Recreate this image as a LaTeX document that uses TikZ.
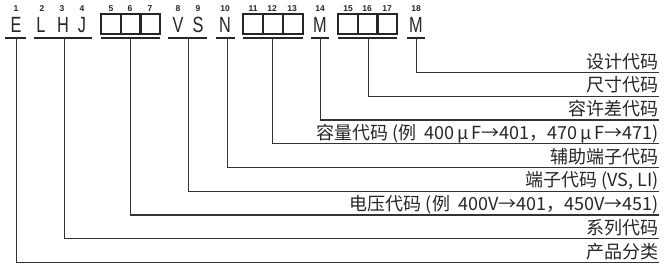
\documentclass[tikz,border=0pt]{standalone}
\usepackage{fontspec}
\setmainfont{Liberation Sans}
\newfontfamily\cjk{Noto Sans CJK SC}
\begin{document}
\begin{tikzpicture}[x=1pt,y=-1pt,
  ln/.style={draw=black!80,line width=1.3pt},
  bar/.style={draw=black!85,line width=1.8pt},
  vl/.style={draw=black!80,line width=1pt},
  letter/.style={font=\fontsize{22}{22}\selectfont,inner sep=0pt,anchor=base,text=black!85,xscale=0.74,transform shape},
  num/.style={font=\bfseries\fontsize{8.5}{9}\selectfont,inner sep=0pt,anchor=base,text=black!85},
  cell/.style={draw=black!85,line width=1.3pt,minimum size=20pt,inner sep=0pt},
  lab/.style={font=\cjk\fontsize{18}{18}\selectfont,inner sep=0pt,anchor=base east,text=black!85}]
\useasboundingbox (0,0) rectangle (665,274);
% position numbers
\foreach \n/\x in {1/16,2/42,3/62,4/82,5/111,6/130,7/150,8/178,9/198,10/225,11/253,12/272,13/292,14/320,15/348,16/367,17/387,18/416}
  \node[num] (n\n) at (\x,11) {\n};
% letters
\node[letter] (E) at (16,32.5) {E};
\node[letter] (L) at (41,32.5) {L};
\node[letter] (H) at (63,32.5) {H};
\node[letter] (J) at (82,32.5) {J};
\node[letter] (V) at (178,32.5) {V};
\node[letter] (S) at (198,32.5) {S};
\node[letter] (N) at (225,32.5) {N};
\node[letter] (M1) at (320,32.5) {M};
\node[letter] (M2) at (416,32.5) {M};
% boxes
\foreach \i/\x in {5/111,6/131,7/150,11/253,12/273,13/293,15/348,16/368,17/387}
  \node[cell] (c\i) at (\x,24) {};
% bars
\coordinate (b1l) at (5,38);   \coordinate (b1r) at (26,38);
\coordinate (b2l) at (34,38);  \coordinate (b2r) at (92,38);
\coordinate (b3l) at (101,38); \coordinate (b3r) at (160,38);
\coordinate (b4l) at (168,38); \coordinate (b4r) at (207,38);
\coordinate (b5l) at (216,38); \coordinate (b5r) at (235,38);
\coordinate (b6l) at (243,38); \coordinate (b6r) at (303,38);
\coordinate (b7l) at (311,38); \coordinate (b7r) at (329,38);
\coordinate (b8l) at (338,38); \coordinate (b8r) at (397,38);
\coordinate (b9l) at (407,38); \coordinate (b9r) at (425,38);
\foreach \b in {1,...,9} \draw[bar] (b\b l) -- (b\b r);
% bar centres
\coordinate (t1) at (16,38);
\coordinate (t2) at (64,38);
\coordinate (t3) at (130,38);
\coordinate (t4) at (188,38);
\coordinate (t5) at (227,38);
\coordinate (t6) at (272,38);
\coordinate (t7) at (320,38);
\coordinate (t8) at (368,38);
\coordinate (t9) at (416,38);
% right ends of lines
\coordinate (r9) at (659,72.5);
\coordinate (r8) at (659,96.3);
\coordinate (r7) at (659,120);
\coordinate (r6) at (659,143.8);
\coordinate (r5) at (659,167.6);
\coordinate (r4) at (659,191.3);
\coordinate (r3) at (659,215);
\coordinate (r2) at (659,238.8);
\coordinate (r1) at (659,262.5);
% labels
\node[lab] (l9) at ([yshift=4.5]r9) {设计代码};
\node[lab] (l8) at ([yshift=4.5]r8) {尺寸代码};
\node[lab] (l7) at ([yshift=4.5]r7) {容许差代码};
\node[lab] (l6) at ([yshift=4.5]r6) {容量代码 (例\ \ 400\,μ\,F→401，470\,μ\,F→471)};
\node[lab] (l5) at ([yshift=4.5]r5) {辅助端子代码};
\node[lab] (l4) at ([yshift=4.5]r4) {端子代码 (VS, LI)};
\node[lab] (l3) at ([yshift=4.5]r3) {电压代码 (例\ \ 400V→401，450V→451)};
\node[lab] (l2) at ([yshift=4.5]r2) {系列代码};
\node[lab] (l1) at ([yshift=4.5]r1) {产品分类};
% connectors
\foreach \k in {1,...,9} {
  \draw[vl] (t\k) |- (r\k);
  \draw[ln] (t\k |- r\k) -- (r\k);
}
\end{tikzpicture}
\end{document}
